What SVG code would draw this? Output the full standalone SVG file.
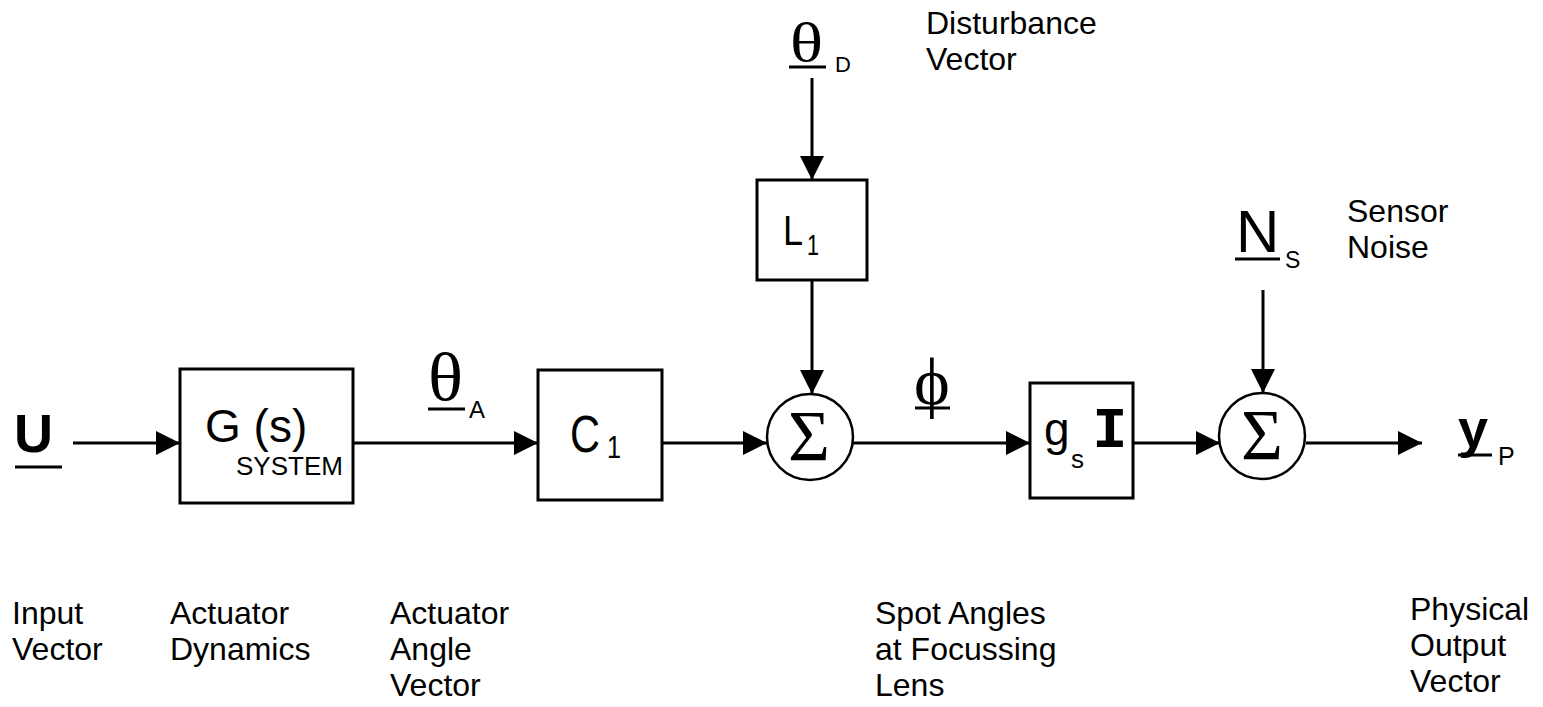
<svg xmlns="http://www.w3.org/2000/svg" width="1543" height="707" viewBox="0 0 1543 707">
<defs>
<marker id="arr" markerWidth="24" markerHeight="24" refX="24" refY="12" orient="auto" markerUnits="userSpaceOnUse"><path d="M0,0 L24,12 L0,24 Z" fill="#000"/></marker>
</defs>
<style>
.box{fill:#fff;stroke:#000;stroke-width:3}
.sum{fill:#fff;stroke:#000;stroke-width:2.5}
.wire{stroke:#000;stroke-width:3;fill:none;marker-end:url(#arr)}
.lbl{font-family:"Liberation Sans",Arial,sans-serif;font-size:32px;fill:#000}
.serif{font-family:"Liberation Serif","Times New Roman",serif;fill:#000}
.sans{font-family:"Liberation Sans",Arial,sans-serif;fill:#000}
.mono{font-family:"Liberation Mono","Courier New",monospace;fill:#000}
.ul{stroke:#000;stroke-width:3}
</style>
<rect width="1543" height="707" fill="#fff"/>
<g id="connectors">
<path class="wire" d="M73,443 H180"/>
<path class="wire" d="M353,443 H538"/>
<path class="wire" d="M662,443 H767"/>
<path class="wire" d="M853,443 H1030"/>
<path class="wire" d="M1133,443 H1220"/>
<path class="wire" d="M1306,443 H1422"/>
<path class="wire" d="M812,78 V180"/>
<path class="wire" d="M812,280 V394"/>
<path class="wire" d="M1263,290 V393"/>
</g>
<g id="input-u">
<text class="sans" x="14" y="452" font-size="54" font-weight="bold">U</text>
<line class="ul" x1="15" y1="467" x2="62" y2="467" stroke-width="4"/>
</g>
<g id="g-system">
<rect class="box" x="180" y="369" width="173" height="134"/>
<text class="sans" x="205" y="442" font-size="46">G (s)</text>
<text class="sans" x="236" y="475" font-size="26">SYSTEM</text>
</g>
<g id="theta-a">
<text class="serif" x="428" y="400" font-size="68" textLength="35" lengthAdjust="spacingAndGlyphs">θ</text>
<line class="ul" x1="428" y1="409" x2="465" y2="409" stroke-width="2.5"/>
<text class="sans" x="469" y="418" font-size="24">A</text>
</g>
<g id="c1">
<rect class="box" x="538" y="370" width="124" height="130"/>
<text class="sans" x="570" y="452" font-size="52" textLength="30" lengthAdjust="spacingAndGlyphs">C</text>
<text class="sans" x="607" y="458" font-size="32" textLength="14" lengthAdjust="spacingAndGlyphs">1</text>
</g>
<g id="sum1">
<circle class="sum" cx="810" cy="437" r="43"/>
<text class="serif" x="809" y="460" font-size="72" text-anchor="middle">Σ</text>
</g>
<g id="l1">
<rect class="box" x="757" y="180" width="110" height="100"/>
<text class="sans" x="783" y="245" font-size="42" textLength="20" lengthAdjust="spacingAndGlyphs">L</text>
<text class="sans" x="807" y="255" font-size="30" textLength="12" lengthAdjust="spacingAndGlyphs">1</text>
</g>
<g id="theta-d">
<text class="serif" x="790" y="61" font-size="54" textLength="33" lengthAdjust="spacingAndGlyphs">θ</text>
<line class="ul" x1="789" y1="67" x2="826" y2="67" stroke-width="2.5"/>
<text class="sans" x="835" y="72" font-size="22">D</text>
<text class="lbl" x="926" y="34">Disturbance</text>
<text class="lbl" x="926" y="70">Vector</text>
</g>
<g id="phi">
<text class="serif" x="932" y="405" font-size="68" text-anchor="middle">ϕ</text>
<line class="ul" x1="915" y1="408" x2="950" y2="408" stroke-width="2.5"/>
</g>
<g id="gsi">
<rect class="box" x="1030" y="383" width="103" height="115"/>
<text class="sans" x="1044" y="445" font-size="46">g</text>
<text class="sans" x="1071" y="468" font-size="26">s</text>
<text class="mono" x="1110" y="447" font-size="58" font-weight="bold" text-anchor="middle">I</text>
</g>
<g id="sum2">
<circle class="sum" cx="1262" cy="436" r="43"/>
<text class="serif" x="1262" y="459" font-size="72" text-anchor="middle">Σ</text>
</g>
<g id="noise">
<text class="sans" x="1236" y="252" font-size="60">N</text>
<line class="ul" x1="1235" y1="259" x2="1280" y2="259"/>
<text class="sans" x="1285" y="268" font-size="23">S</text>
<text class="lbl" x="1347" y="222">Sensor</text>
<text class="lbl" x="1347" y="258">Noise</text>
</g>
<g id="output-y">
<text class="sans" x="1458" y="447" font-size="54" font-weight="bold">y</text>
<line class="ul" x1="1458" y1="455" x2="1492" y2="455" stroke-width="3.5"/>
<text class="sans" x="1498" y="465" font-size="25">P</text>
</g>
<g id="labels">
<text class="lbl" x="12" y="624">Input</text>
<text class="lbl" x="12" y="660">Vector</text>
<text class="lbl" x="170" y="624">Actuator</text>
<text class="lbl" x="170" y="660">Dynamics</text>
<text class="lbl" x="390" y="624">Actuator</text>
<text class="lbl" x="390" y="660">Angle</text>
<text class="lbl" x="390" y="696">Vector</text>
<text class="lbl" x="875" y="624">Spot Angles</text>
<text class="lbl" x="875" y="660">at Focussing</text>
<text class="lbl" x="875" y="696">Lens</text>
<text class="lbl" x="1410" y="620">Physical</text>
<text class="lbl" x="1410" y="656">Output</text>
<text class="lbl" x="1410" y="692">Vector</text>
</g>
</svg>
